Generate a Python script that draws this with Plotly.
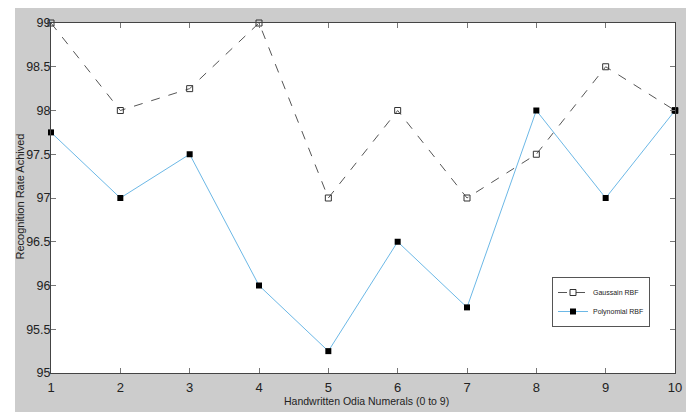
import plotly.graph_objects as go

x_vals = [1, 2, 3, 4, 5, 6, 7, 8, 9, 10]
gaussian_rbf = [99, 98, 98.25, 99, 97, 98, 97, 97.5, 98.5, 98]
polynomial_rbf = [97.75, 97, 97.5, 96, 95.25, 96.5, 95.75, 98, 97, 98]
y_ticks = [95, 95.5, 96, 96.5, 97, 97.5, 98, 98.5, 99]
y_tick_text = ["95", "95.5", "96", "96.5", "97", "97.5", "98", "98.5", "99"]
x_title = "Handwritten Odia Numerals (0 to 9)"
y_title = "Recognition Rate Achived"

fig = go.Figure()
fig.add_trace(go.Scatter(
    x=x_vals, y=gaussian_rbf, name="Gaussain RBF", mode="lines+markers",
    line=dict(color="#555555", width=1, dash="dash"),
    marker=dict(symbol="square-open", size=6, color="#333333", line=dict(width=1)),
    cliponaxis=False,
))
fig.add_trace(go.Scatter(
    x=x_vals, y=polynomial_rbf, name="Polynomial RBF", mode="lines+markers",
    line=dict(color="#6cb8e6", width=1),
    marker=dict(symbol="square", size=6, color="#000000"),
    cliponaxis=False,
))

font = "Liberation Sans, Arial, sans-serif"
# page body has an 8px margin: figure is 686x404, drawn at (8, 8)
W, H = 686, 404
ML, MR, MT, MB = 43, 19, 15, 39
PW, PH = W - ML - MR, H - MT - MB


def px(xp):  # page x -> paper x
    return (xp - 8 - ML) / PW


def py(yp):  # page y -> paper y
    return (H - MB - (yp - 8)) / PH


fig.update_layout(
    width=W, height=H,
    margin=dict(l=ML, r=MR, t=MT, b=MB, autoexpand=False),
    paper_bgcolor="#cccccc",
    plot_bgcolor="#ffffff",
    font=dict(family=font, color="#222222", size=12),
    showlegend=True,
    legend=dict(
        x=px(601), y=py(302), xanchor="center", yanchor="middle",
        bgcolor="#ffffff", bordercolor="#555555", borderwidth=1,
        font=dict(size=7, color="#222222", family=font),
        itemwidth=30, tracegroupgap=0,
    ),
    shapes=[
        dict(type="rect", xref="paper", yref="paper", x0=-0.3, x1=px(15),
             y0=-0.3, y1=1.3, fillcolor="#ffffff", line=dict(width=0), layer="below"),
        dict(type="rect", xref="paper", yref="paper", x0=px(687), x1=1.3,
             y0=-0.3, y1=1.3, fillcolor="#ffffff", line=dict(width=0), layer="below"),
    ],
    annotations=[
        dict(text=x_title, xref="paper", yref="paper", x=px(366), y=py(401),
             xanchor="center", yanchor="middle", showarrow=False,
             font=dict(size=10.5, family=font, color="#222222")),
        dict(text=y_title, xref="paper", yref="paper", x=px(19.5), y=py(197),
             xanchor="center", yanchor="middle", showarrow=False, textangle=-90,
             font=dict(size=11, family=font, color="#222222")),
    ],
)
fig.update_xaxes(
    range=[1, 10], tickvals=x_vals, ticktext=[str(v) for v in x_vals],
    automargin=False,
    showgrid=False, zeroline=False, showline=True, linecolor="#444444", linewidth=1,
    mirror="ticks", ticks="inside", ticklen=5, tickcolor="#777777",
    tickfont=dict(size=13, family=font, color="#222222"),
    ticklabelstandoff=2,
)
fig.update_yaxes(
    range=[95, 99], tickvals=y_ticks, ticktext=y_tick_text,
    automargin=False,
    showgrid=False, zeroline=False, showline=True, linecolor="#444444", linewidth=1,
    mirror="ticks", ticks="inside", ticklen=5, tickcolor="#777777",
    tickfont=dict(size=12.5, family=font, color="#222222"),
    ticklabelstandoff=-3,
)

fig.write_html("out.html")
